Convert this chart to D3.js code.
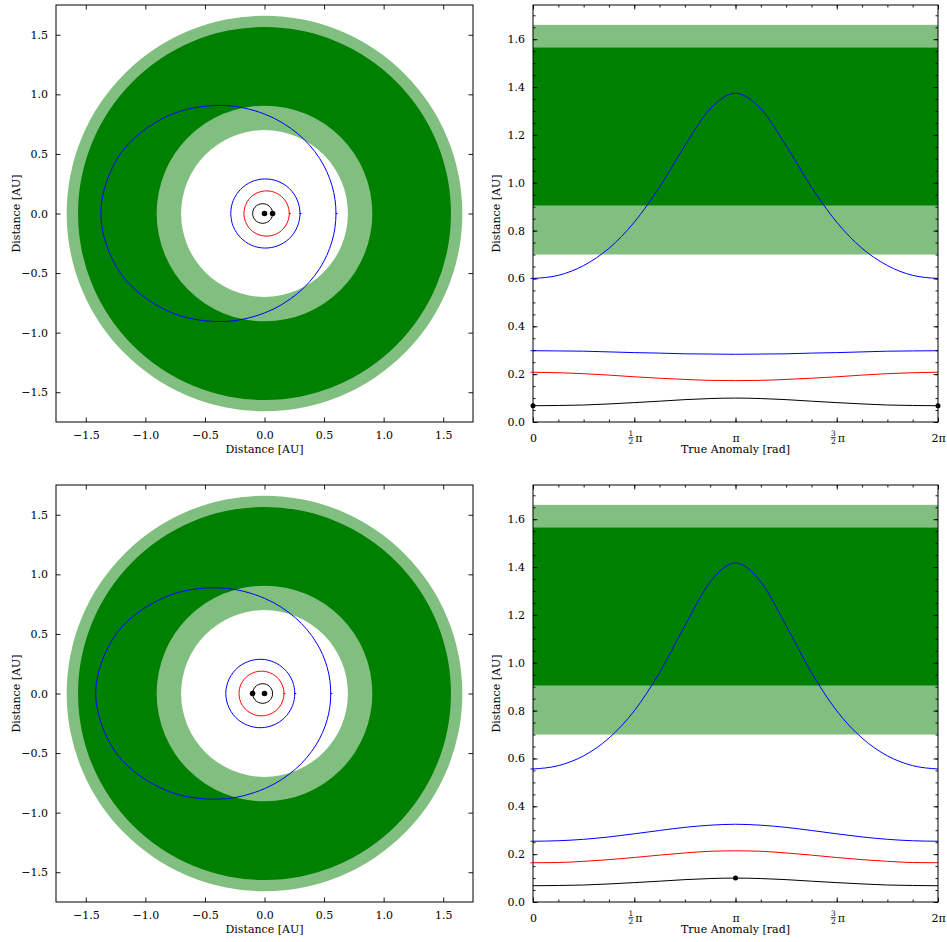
<!DOCTYPE html>
<html><head><meta charset="utf-8">
<script src="https://cdn.jsdelivr.net/npm/d3@7"></script>
<style>body{margin:0;background:#fff} text{font-family:"DejaVu Serif",serif;fill:#000}</style>
</head><body><svg id="c" width="947" height="942"></svg>
<script>
// ---------------- data ----------------
const anomalyPi = [0,0.125,0.25,0.375,0.5,0.625,0.75,0.875,1,1.125,1.25,1.375,1.5,1.625,1.75,1.875,2]; // true anomaly in units of pi

// top row
const topBlueOuter = [0.600,0.613,0.654,0.726,0.835,0.982,1.155,1.309,1.374,1.309,1.155,0.982,0.835,0.726,0.654,0.613,0.600];
const topBlueInner = [0.298,0.297,0.296,0.293,0.290,0.288,0.285,0.284,0.283,0.284,0.285,0.288,0.290,0.293,0.296,0.297,0.298];
const topRed       = [0.208,0.206,0.202,0.196,0.189,0.183,0.178,0.174,0.173,0.174,0.178,0.183,0.189,0.196,0.202,0.206,0.208];
const topBlack     = [0.068,0.069,0.071,0.0755,0.081,0.087,0.0935,0.098,0.100,0.098,0.0935,0.087,0.081,0.0755,0.071,0.069,0.068];
const topPlanetAt  = [0, 2];      // anomaly (pi units) where the black body is marked

// bottom row
const botBlueOuter = [0.556,0.570,0.611,0.685,0.799,0.959,1.155,1.338,1.417,1.338,1.155,0.959,0.799,0.685,0.611,0.570,0.556];
const botBlueInner = [0.254,0.256,0.262,0.272,0.285,0.299,0.312,0.321,0.325,0.321,0.312,0.299,0.285,0.272,0.262,0.256,0.254];
const botRed       = [0.164,0.165,0.170,0.177,0.186,0.196,0.205,0.212,0.214,0.212,0.205,0.196,0.186,0.177,0.170,0.165,0.164];
const botBlack     = [0.068,0.069,0.071,0.0755,0.081,0.087,0.0935,0.098,0.100,0.098,0.0935,0.087,0.081,0.0755,0.071,0.069,0.068];
const botPlanetAt  = [1];

// habitable zone limits [AU]
const zoneOptimistic   = [0.700, 1.660];
const zoneConservative = [0.905, 1.565];

// ticks
const orbitTicks = [-1.5,-1.0,-0.5,0.0,0.5,1.0,1.5];
const anomalyTicksPi = [0,0.5,1,1.5,2];
const anomalyTickLabels = [["0"],["1","2","π"],["π"],["3","2","π"],["2π"]];
const anomalyMinorPi = anomalyPi;
const distTicks = [0,0.2,0.4,0.6,0.8,1.0,1.2,1.4,1.6];
const distMinor = d3.range(0,35).map(i=>i*0.05);

const orbitLimit = 1.75, distMax = 1.743;
const colors = {blue:"#0000ff", red:"#ff0000", black:"#000000", dark:"#008000", light:"#80bf80"};

// ---------------- layout ----------------
const svg = d3.select("#c");
const FS = 11;
const rows = [
  {y:5,   curves:[[topBlueOuter,colors.blue],[topBlueInner,colors.blue],[topRed,colors.red],[topBlack,colors.black]], black:topBlack, at:topPlanetAt},
  {y:485, curves:[[botBlueOuter,colors.blue],[botBlueInner,colors.blue],[botRed,colors.red],[botBlack,colors.black]], black:botBlack, at:botPlanetAt}
];
const H = 417, LX = 56, LW = 417, RX = 533, RW = 405;
let clipId = 0;

function styleAxis(g){
  g.select(".domain").remove();
  g.selectAll("line").attr("stroke","#000").attr("stroke-width",0.9);
  g.selectAll("text").attr("font-family","DejaVu Serif").attr("font-size",FS).attr("fill","#000");
}
function frame(g,w,h){
  g.append("rect").attr("width",w).attr("height",h).attr("fill","none").attr("stroke","#000").attr("stroke-width",1);
}
function clip(g,w,h){
  const id="clip"+(clipId++);
  g.append("clipPath").attr("id",id).append("rect").attr("width",w).attr("height",h);
  return "url(#"+id+")";
}
function valAt(arr, tPi){ return arr[anomalyPi.indexOf(tPi)]; }

rows.forEach(row=>{
  // ===== left: orbit view =====
  const g = svg.append("g").attr("transform",`translate(${LX},${row.y})`);
  const x = d3.scaleLinear().domain([-orbitLimit,orbitLimit]).range([0,LW]);
  const y = d3.scaleLinear().domain([-orbitLimit,orbitLimit]).range([H,0]);
  const cp = clip(g,LW,H);
  const plot = g.append("g").attr("clip-path",cp);
  const c = plot.append("g").attr("transform",`translate(${x(0)},${y(0)})`);
  const rs = r => x(r)-x(0);
  c.append("path").attr("d",d3.arc()({innerRadius:rs(zoneOptimistic[0]),outerRadius:rs(zoneOptimistic[1]),startAngle:0,endAngle:2*Math.PI})).attr("fill",colors.light);
  c.append("path").attr("d",d3.arc()({innerRadius:rs(zoneConservative[0]),outerRadius:rs(zoneConservative[1]),startAngle:0,endAngle:2*Math.PI})).attr("fill",colors.dark);
  const orbitLine = d3.line().curve(d3.curveCatmullRomClosed.alpha(0.5));
  row.curves.forEach(([vals,col])=>{
    const pts = vals.slice(0,-1).map((r,i)=>{const t=anomalyPi[i]*Math.PI; return [x(r*Math.cos(t)), y(r*Math.sin(t))];});
    plot.append("path").attr("d",orbitLine(pts)).attr("fill","none").attr("stroke",col).attr("stroke-width",1);
    if(col!==colors.black){
      plot.append("line").attr("x1",x(vals[0])-0.5).attr("x2",x(vals[0])+1.5).attr("y1",y(0)).attr("y2",y(0)).attr("stroke",col).attr("stroke-width",1);
    }
  });
  // star + body
  plot.append("circle").attr("cx",x(0)).attr("cy",y(0)).attr("r",2.8).attr("fill","#000");
  row.at.slice(0,1).forEach(tPi=>{
    const r = valAt(row.black,tPi), t=tPi*Math.PI;
    plot.append("circle").attr("cx",x(r*Math.cos(t))).attr("cy",y(r*Math.sin(t))).attr("r",2.8).attr("fill","#000");
  });
  // axes
  const fmt = v => (v<0?"−":"")+Math.abs(v).toFixed(1);
  g.append("g").attr("transform",`translate(0,${H})`).call(d3.axisBottom(x).tickValues(orbitTicks).tickFormat(fmt).tickSize(-4.5).tickSizeOuter(0).tickPadding(9)).call(styleAxis);
  g.append("g").call(d3.axisTop(x).tickValues(orbitTicks).tickFormat("").tickSize(-4.5).tickSizeOuter(0)).call(styleAxis);
  g.append("g").call(d3.axisLeft(y).tickValues(orbitTicks).tickFormat(fmt).tickSize(-4.5).tickSizeOuter(0).tickPadding(8)).call(styleAxis);
  g.append("g").attr("transform",`translate(${LW},0)`).call(d3.axisRight(y).tickValues(orbitTicks).tickFormat("").tickSize(-4.5).tickSizeOuter(0)).call(styleAxis);
  frame(g,LW,H);
  g.append("text").attr("x",LW/2).attr("y",H+31).attr("text-anchor","middle").attr("font-size",FS).text("Distance [AU]");
  g.append("text").attr("transform",`translate(${-36},${H/2}) rotate(-90)`).attr("text-anchor","middle").attr("font-size",FS).text("Distance [AU]");

  // ===== right: distance vs true anomaly =====
  const g2 = svg.append("g").attr("transform",`translate(${RX},${row.y})`);
  const xa = d3.scaleLinear().domain([0,2*Math.PI]).range([0,RW]);
  const yd = d3.scaleLinear().domain([0,distMax]).range([H,0]);
  const cp2 = clip(g2,RW,H);
  const p2 = g2.append("g").attr("clip-path",cp2);
  p2.append("rect").attr("x",0).attr("width",RW).attr("y",yd(zoneOptimistic[1])).attr("height",yd(zoneOptimistic[0])-yd(zoneOptimistic[1])).attr("fill",colors.light);
  p2.append("rect").attr("x",0).attr("width",RW).attr("y",yd(zoneConservative[1])).attr("height",yd(zoneConservative[0])-yd(zoneConservative[1])).attr("fill",colors.dark);
  const dLine = d3.line().x((d,i)=>xa(anomalyPi[i]*Math.PI)).y(d=>yd(d)).curve(d3.curveMonotoneX);
  row.curves.forEach(([vals,col])=>{
    p2.append("path").attr("d",dLine(vals)).attr("fill","none").attr("stroke",col).attr("stroke-width",1);
  });
  // axes
  g2.append("g").attr("transform",`translate(0,${H})`).call(d3.axisBottom(xa).tickValues(anomalyMinorPi.map(v=>v*Math.PI)).tickFormat("").tickSize(-2.5).tickSizeOuter(0)).call(styleAxis);
  g2.append("g").call(d3.axisTop(xa).tickValues(anomalyMinorPi.map(v=>v*Math.PI)).tickFormat("").tickSize(-2.5).tickSizeOuter(0)).call(styleAxis);
  const xb = g2.append("g").attr("transform",`translate(0,${H})`).call(d3.axisBottom(xa).tickValues(anomalyTicksPi.map(v=>v*Math.PI)).tickFormat("").tickSize(-4.5).tickSizeOuter(0)).call(styleAxis);
  g2.append("g").call(d3.axisTop(xa).tickValues(anomalyTicksPi.map(v=>v*Math.PI)).tickFormat("").tickSize(-4.5).tickSizeOuter(0)).call(styleAxis);
  xb.selectAll(".tick").each(function(d,i){
    const t = d3.select(this); const lab = anomalyTickLabels[i];
    if(lab.length===1){
      t.append("text").attr("y",19.5).attr("text-anchor","middle").attr("font-size",FS).text(lab[0]);
    } else {
      t.append("text").attr("x",-3.8).attr("y",14.2).attr("text-anchor","middle").attr("font-size",7.5).text(lab[0]);
      t.append("line").attr("x1",-6.5).attr("x2",-1.2).attr("y1",15.6).attr("y2",15.6).attr("stroke","#000").attr("stroke-width",0.7);
      t.append("text").attr("x",-3.8).attr("y",22).attr("text-anchor","middle").attr("font-size",7.5).text(lab[1]);
      t.append("text").attr("x",4.2).attr("y",19.5).attr("text-anchor","middle").attr("font-size",FS).text(lab[2]);
    }
  });
  g2.append("g").call(d3.axisLeft(yd).tickValues(distMinor).tickFormat("").tickSize(-2.5).tickSizeOuter(0)).call(styleAxis);
  g2.append("g").attr("transform",`translate(${RW},0)`).call(d3.axisRight(yd).tickValues(distMinor).tickFormat("").tickSize(-2.5).tickSizeOuter(0)).call(styleAxis);
  g2.append("g").call(d3.axisLeft(yd).tickValues(distTicks).tickFormat(d3.format(".1f")).tickSize(-4.5).tickSizeOuter(0).tickPadding(8)).call(styleAxis);
  g2.append("g").attr("transform",`translate(${RW},0)`).call(d3.axisRight(yd).tickValues(distTicks).tickFormat("").tickSize(-4.5).tickSizeOuter(0)).call(styleAxis);
  frame(g2,RW,H);
  // blue/red position markers at anomaly 0 (unclipped)
  row.curves.forEach(([vals,col])=>{
    if(col!==colors.black) g2.append("line").attr("x1",-2.5).attr("x2",0.5).attr("y1",yd(vals[0])).attr("y2",yd(vals[0])).attr("stroke",col).attr("stroke-width",1);
  });
  row.at.forEach(tPi=>{
    g2.append("circle").attr("cx",xa(tPi*Math.PI)).attr("cy",yd(valAt(row.black,tPi))).attr("r",2.5).attr("fill","#000");
  });
  g2.append("text").attr("x",RW/2).attr("y",H+31).attr("text-anchor","middle").attr("font-size",FS).text("True Anomaly [rad]");
  g2.append("text").attr("transform",`translate(${-33},${H/2}) rotate(-90)`).attr("text-anchor","middle").attr("font-size",FS).text("Distance [AU]");
});
</script></body></html>
